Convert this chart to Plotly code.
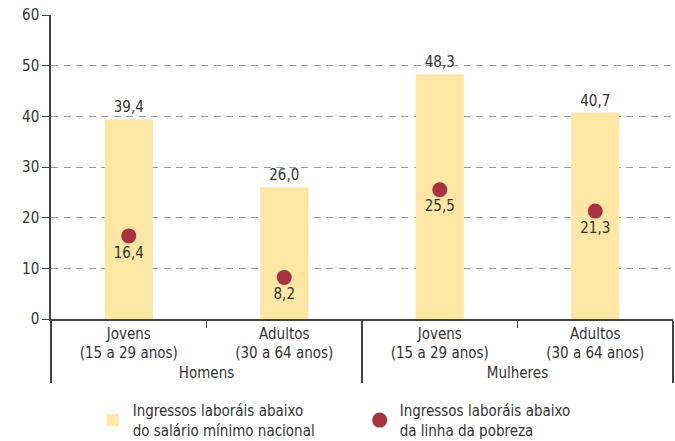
import plotly.graph_objects as go

groups = ["Homens", "Homens", "Mulheres", "Mulheres"]
ages = ["Jovens<br>(15 a 29 anos)", "Adultos<br>(30 a 64 anos)",
        "Jovens<br>(15 a 29 anos)", "Adultos<br>(30 a 64 anos)"]
salario_minimo = [39.4, 26.0, 48.3, 40.7]
linha_pobreza = [16.4, 8.2, 25.5, 21.3]
y_ticks = [0, 10, 20, 30, 40, 50, 60]

FONT = "DejaVu Sans Condensed, Liberation Sans Narrow, sans-serif"
TXT = "#333333"
FS = 15

fig = go.Figure()
fig.add_trace(go.Bar(
    x=[groups, ages], y=salario_minimo,
    name="Ingressos laboráis abaixo<br>do salário mínimo nacional",
    marker=dict(color="#FEE6A4", line=dict(width=0)),
    texttemplate="%{y:.1f}", textposition="outside",
    textfont=dict(family=FONT, size=FS, color=TXT),
    cliponaxis=False,
))
fig.add_trace(go.Scatter(
    x=[groups, ages], y=linha_pobreza, mode="markers+text",
    name="Ingressos laboráis abaixo<br>da linha da pobreza",
    marker=dict(color="#A8323F", size=15),
    texttemplate="%{y:.1f}", textposition="bottom center",
    textfont=dict(family=FONT, size=FS, color=TXT),
))

fig.update_layout(
    width=675, height=441,
    margin=dict(l=51, r=2, t=15, b=122, autoexpand=False),
    paper_bgcolor="white", plot_bgcolor="white",
    separators=", ",
    bargap=0.69,
    font=dict(family=FONT, size=FS, color=TXT),
    showlegend=True,
    legend=dict(orientation="h", x=0.067, xanchor="left", y=-0.247, yanchor="top",
                entrywidth=222, entrywidthmode="pixels",
                bgcolor="rgba(0,0,0,0)",
                font=dict(family=FONT, size=FS, color=TXT),
                itemclick=False),
)
fig.update_yaxes(
    range=[0, 60], tickvals=y_ticks, showgrid=True, gridcolor="#9a9a9a",
    griddash="7px,5.5px", gridwidth=1.3, showline=True, linecolor="#444444",
    linewidth=1.5, ticks="outside", ticklen=7, tickcolor="#444444",
    zeroline=False, automargin=False,
    tickfont=dict(family=FONT, size=FS, color=TXT),
)
fig.update_xaxes(
    showline=True, linecolor="#444444", linewidth=1.5, ticks="outside",
    ticklen=7, tickcolor="#444444", showdividers=True, dividercolor="#444444",
    dividerwidth=1.5, automargin=False,
    tickfont=dict(family=FONT, size=FS, color=TXT),
)
fig.write_html("out.html", config={"displayModeBar": False},
               post_script="document.body.style.margin='0';")
